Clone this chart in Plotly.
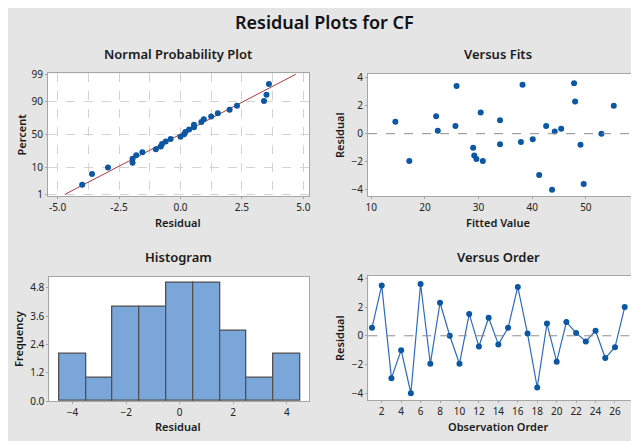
import numpy as np
import plotly.graph_objects as go
from statistics import NormalDist

# residuals in observation order (1..27) and their fitted values
order = list(range(1, 28))
residuals = [0.55, 3.5, -2.95, -1.0, -4.0, 3.6, -1.95, 2.3, 0.0, -1.95,
             1.52, -0.75, 1.25, -0.6, 0.55, 3.4, 0.15, -3.6, 0.85, -1.8,
             0.95, 0.2, -0.4, 0.35, -1.55, -0.8, 2.0]
fitted = [25.7, 38.2, 41.3, 29.0, 43.7, 47.8, 17.1, 48.0, 52.9, 30.8,
          30.4, 34.0, 22.1, 37.9, 42.6, 25.9, 44.2, 49.6, 14.5, 29.6,
          34.0, 22.4, 40.1, 45.4, 29.2, 49.0, 55.2]
pct_ticks = [1, 10, 50, 90, 99]

FONT = "Noto Sans"
BG = "#E5E5E5"
BLUE = "#0B57A4"
FRAME = "#A6A6A6"
W, H = 639, 441
OFF = 8  # page body margin: the plot div sits 8px in from the corner

nd = NormalDist()
res = np.array(residuals)
n = len(res)

# normal probability plot: median ranks on a probit scale
xs = np.sort(res)
ranks = (np.arange(1, n + 1) - 0.3) / (n + 0.4)
zs = [nd.inv_cdf(p) for p in ranks]
mu, sd = res.mean(), res.std(ddof=1)
z_line = [nd.inv_cdf(0.01), nd.inv_cdf(0.99)]
x_line = [mu + sd * z for z in z_line]

fig = go.Figure()

fig.add_trace(go.Scatter(x=x_line, y=z_line, mode="lines",
                         line=dict(color="#B03A3A", width=1),
                         xaxis="x", yaxis="y"))
fig.add_trace(go.Scatter(x=xs, y=zs, mode="markers",
                         marker=dict(color=BLUE, size=6),
                         xaxis="x", yaxis="y"))

# versus fits
fig.add_trace(go.Scatter(x=fitted, y=residuals, mode="markers",
                         marker=dict(color=BLUE, size=6),
                         xaxis="x2", yaxis="y2"))

# histogram
fig.add_trace(go.Histogram(x=residuals, xbins=dict(start=-4.5, end=4.5, size=1),
                           marker=dict(color="#7BA6D9", line=dict(color="#505050", width=1.3)),
                           xaxis="x3", yaxis="y3"))

# versus order
fig.add_trace(go.Scatter(x=order, y=residuals, mode="lines+markers",
                         line=dict(color="#2A6BBF", width=1.2),
                         marker=dict(color=BLUE, size=6),
                         xaxis="x4", yaxis="y4"))


def fx(px):
    return (px - OFF) / W


def fy(py):
    return 1 - (py - OFF) / H


def px_x(a, b):
    return [fx(a), fx(b)]


def px_y(top, bottom):
    return [fy(bottom), fy(top)]


tickfont = dict(family=FONT, size=10, color="#222222")
base_axis = dict(showline=True, linecolor=FRAME, linewidth=1, mirror=True,
                 ticks="outside", ticklen=2, tickcolor=FRAME, tickfont=tickfont,
                 showgrid=False, zeroline=False, automargin=False)

grid = dict(showgrid=True, gridcolor="#D3D3D3", griddash="dash", gridwidth=1)

fig.update_layout(
    width=W, height=H,
    margin=dict(l=0, r=0, t=0, b=0),
    paper_bgcolor=BG,
    plot_bgcolor="white",
    showlegend=False,
    bargap=0,
    xaxis=dict(base_axis, **grid, anchor="y", domain=px_x(48, 309), range=[-5.39, 5.23],
               tickvals=[-5, -2.5, 0, 2.5, 5], ticktext=["-5.0", "-2.5", "0.0", "2.5", "5.0"],
               minor=dict(dtick=1.25, tick0=0, showgrid=True, gridcolor="#D3D3D3", griddash="dash")),
    yaxis=dict(base_axis, **grid, anchor="x", domain=px_y(73.3, 196), range=[-2.39, 2.365],
               tickvals=[nd.inv_cdf(p / 100) for p in pct_ticks],
               ticktext=[str(p) for p in pct_ticks]),
    xaxis2=dict(base_axis, anchor="y2", domain=px_x(368, 632), range=[9.4, 58.6],
                tickvals=[10, 20, 30, 40, 50]),
    yaxis2=dict(base_axis, anchor="x2", domain=px_y(74, 196), range=[-4.45, 4.26],
                tickvals=[-4, -2, 0, 2, 4]),
    xaxis3=dict(base_axis, anchor="y3", domain=px_x(49.3, 309), range=[-4.87, 4.83],
                tickvals=[-4, -2, 0, 2, 4]),
    yaxis3=dict(base_axis, anchor="x3", domain=px_y(276.7, 401), range=[0, 5.27],
                tickvals=[0, 1.2, 2.4, 3.6, 4.8], ticktext=["0.0", "1.2", "2.4", "3.6", "4.8"]),
    xaxis4=dict(base_axis, anchor="y4", domain=px_x(368.3, 631.7), range=[0.62, 27.72],
                tickvals=list(range(2, 27, 2))),
    yaxis4=dict(base_axis, anchor="x4", domain=px_y(276, 400), range=[-4.47, 4.16],
                tickvals=[-4, -2, 0, 2, 4]),
)

# zero reference lines
for xa, ya in [("x2", "y2"), ("x4", "y4")]:
    fig.add_shape(type="line", xref=f"{xa} domain", yref=ya, x0=0, x1=1, y0=0, y1=0,
                  line=dict(color="#8C8C8C", width=1, dash="dash"))

title_font = dict(family=FONT, size=13, color="#1A1A1A", weight=600)
label_font = dict(family=FONT, size=11, color="#1A1A1A", weight=600)

texts = [
    ("Residual Plots for CF", 324, 22.5, 0, dict(family=FONT, size=18, color="#111111", weight=600)),
    ("Normal Probability Plot", 178, 54, 0, title_font),
    ("Versus Fits", 498, 54, 0, title_font),
    ("Histogram", 178, 257, 0, title_font),
    ("Versus Order", 498, 257, 0, title_font),
    ("Residual", 178, 222, 0, label_font),
    ("Fitted Value", 498, 222, 0, label_font),
    ("Residual", 178, 426.5, 0, label_font),
    ("Observation Order", 498, 426.5, 0, label_font),
    ("Percent", 21, 134.5, -90, label_font),
    ("Residual", 339, 135, -90, label_font),
    ("Frequency", 18, 339, -90, label_font),
    ("Residual", 339, 338, -90, label_font),
]
for txt, x, y, ang, f in texts:
    fig.add_annotation(text=txt, x=fx(x), y=fy(y), xref="paper", yref="paper",
                       showarrow=False, textangle=ang, font=f,
                       xanchor="center", yanchor="middle")

fig.write_html("out.html")
